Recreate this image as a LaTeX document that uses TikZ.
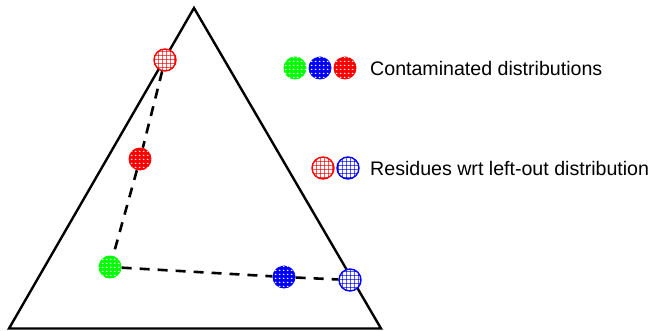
\documentclass[tikz,border=0pt]{standalone}
\usepackage{fontspec}
\setmainfont{Liberation Sans}
\usetikzlibrary{patterns.meta}

% small holes punched through a solid disc
\tikzdeclarepattern{name=holes, type=uncolored,
  bounding box={(0pt,0pt) and (3.6pt,3.6pt)}, tile size={(3.6pt,3.6pt)},
  code={\pgfpathellipse{\pgfpoint{1.8pt}{1.8pt}}{\pgfpoint{1.1pt}{0pt}}{\pgfpoint{0pt}{0.7pt}}\pgfusepath{fill}}}
% square mesh
\tikzdeclarepattern{name=mesh, type=uncolored,
  bounding box={(0pt,0pt) and (4.4pt,4.4pt)}, tile size={(4.4pt,4.4pt)},
  code={\pgfsetlinewidth{1.3pt}
    \pgfpathmoveto{\pgfpoint{0pt}{0pt}}\pgfpathlineto{\pgfpoint{4.4pt}{0pt}}
    \pgfpathmoveto{\pgfpoint{0pt}{0pt}}\pgfpathlineto{\pgfpoint{0pt}{4.4pt}}
    \pgfusepath{stroke}}}

\tikzset{
  mix/.style={circle, minimum size=23pt, inner sep=0pt, fill=#1,
    postaction={pattern={holes}, pattern color=white}},
  res/.style={circle, minimum size=22pt, inner sep=0pt, draw=#1, line width=1.4pt, fill=white,
    postaction={pattern={mesh}, pattern color=#1}},
  link/.style={line width=2.6pt, dash pattern=on 10pt off 8pt},
  legend/.style={anchor=west, font=\fontsize{19.6}{23}\selectfont, inner sep=0pt}
}

\begin{document}
\begin{tikzpicture}[x=1pt, y=-1pt]
\useasboundingbox (0,0) rectangle (654,331);

% simplex
\coordinate (top) at (194,8);
\coordinate (bl) at (9,328.5);
\coordinate (br) at (381,328.5);
\draw[line width=2.4pt, line join=miter] (top) -- (bl) -- (br) -- cycle;

% points on the simplex
\node[res=red]  (r1) at (165,60) {};
\node[mix=red]  (r2) at (140,159) {};
\node[mix=green] (g1) at (110,267) {};
\node[mix=blue] (b1) at (284,277) {};
\node[res=blue] (b2) at (350,280) {};

\draw[link] (r1) -- (r2);
\draw[link] (r2) -- (g1);
\draw[link] (g1) -- (b1);
\draw[link] (b1) -- (b2);

% legend
\node[mix=green] (lg) at (295,68) {};
\node[mix=blue]  (lb) at (320,68) {};
\node[mix=red]   (lr) at (345,68) {};
\node[legend] (t1) at (370,68) {Contaminated distributions};

\node[res=red]  (lr2) at (323,168) {};
\node[res=blue] (lb2) at (348,168) {};
\node[legend] (t2) at (370,168) {Residues wrt left-out distribution};
\end{tikzpicture}
\end{document}
